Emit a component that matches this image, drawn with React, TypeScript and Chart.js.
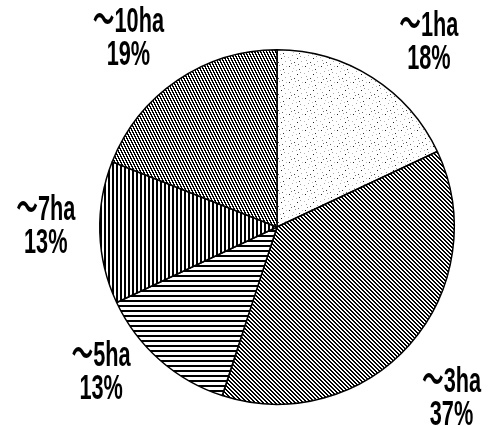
import React, { useEffect, useRef } from "react";
import { Chart, registerables } from "chart.js";

Chart.register(...registerables);

const categories = ["～1ha", "～3ha", "～5ha", "～7ha", "～10ha"];
const shares = [18, 37, 13, 13, 19];
const shareLabels = ["18%", "37%", "13%", "13%", "19%"];

// label placement style: angle shift (deg) from slice middle and gap outside the rim
const labelAngleShift = [7, 3, 9, 2, -4];
const labelGap = [62, 67, 51, 54, 63];

function makeTile(w: number, h: number, on: (x: number, y: number) => string | null) {
  const c = document.createElement("canvas");
  c.width = w;
  c.height = h;
  const g = c.getContext("2d")!;
  g.fillStyle = "#ffffff";
  g.fillRect(0, 0, w, h);
  for (let y = 0; y < h; y++) {
    for (let x = 0; x < w; x++) {
      const col = on(x, y);
      if (col) {
        g.fillStyle = col;
        g.fillRect(x, y, 1, 1);
      }
    }
  }
  return c;
}

const stipple: [number, number, string][] = [
  [1, 2, "#222"], [7, 1, "#999"], [11, 5, "#333"], [4, 7, "#aaa"], [9, 10, "#222"],
  [2, 12, "#999"], [13, 13, "#aaa"], [6, 14, "#444"], [14, 2, "#bbb"], [0, 9, "#bbb"],
  [10, 0, "#666"], [5, 4, "#ccc"], [12, 8, "#999"], [3, 15, "#777"], [8, 6, "#bbb"],
];

export default function App() {
  const ref = useRef<HTMLCanvasElement | null>(null);
  useEffect(() => {
    document.body.style.margin = "0";
    const canvas = ref.current!;
    const ctx = canvas.getContext("2d")!;

    const pDots = makeTile(16, 16, (x, y) => {
      const hit = stipple.find((p) => p[0] === x && p[1] === y);
      return hit ? hit[2] : null;
    });
    const pDiag = makeTile(4, 4, (x, y) => ((((x - y) % 4) + 4) % 4 < 2 ? "#000" : null));
    const pHoriz = makeTile(1, 5, (x, y) => (y < 2 ? "#000" : null));
    const pVert = makeTile(4, 1, (x) => (x < 2 ? "#000" : null));
    const pSteep = makeTile(3, 6, (x, y) => ((((2 * x - y) % 6) + 6) % 6 < 3 ? "#000" : null));

    const fills = [pDots, pDiag, pHoriz, pVert, pSteep].map((t) => ctx.createPattern(t, "repeat")!);

    const labelPlugin = {
      id: "outerLabels",
      afterDraw(chart: any) {
        const meta = chart.getDatasetMeta(0);
        const c = chart.ctx;
        c.save();
        c.fillStyle = "#000";
        c.textAlign = "center";
        c.textBaseline = "middle";
        c.font = "bold 35px 'Liberation Sans', 'Noto Sans CJK JP', sans-serif";
        meta.data.forEach((arc: any, i: number) => {
          const p = arc.getProps(["x", "y", "startAngle", "endAngle", "outerRadius"], true);
          const mid = (p.startAngle + p.endAngle) / 2 + (labelAngleShift[i] * Math.PI) / 180;
          const d = p.outerRadius + labelGap[i];
          const cx = p.x + Math.cos(mid) * d;
          const cy = p.y + Math.sin(mid) * d;
          const lines = [categories[i], shareLabels[i]];
          lines.forEach((t, k) => {
            c.save();
            c.translate(cx, cy + (k === 0 ? -16 : 17));
            c.scale(0.62, 1);
            c.fillText(t, 0, 0);
            c.restore();
          });
        });
        c.restore();
      },
    };

    const chart = new Chart(canvas, {
      type: "pie",
      data: {
        labels: categories,
        datasets: [
          {
            data: shares,
            backgroundColor: fills,
            borderColor: "#000",
            borderWidth: 1.5,
          },
        ],
      },
      options: {
        responsive: false,
        animation: false,
        layout: { padding: { left: 99, right: 40, top: 49, bottom: 21 } },
        plugins: { legend: { display: false }, tooltip: { enabled: false } },
      },
      plugins: [labelPlugin],
    });
    return () => chart.destroy();
  }, []);
  return <canvas ref={ref} width={495} height={426} style={{ display: "block" }} />;
}
